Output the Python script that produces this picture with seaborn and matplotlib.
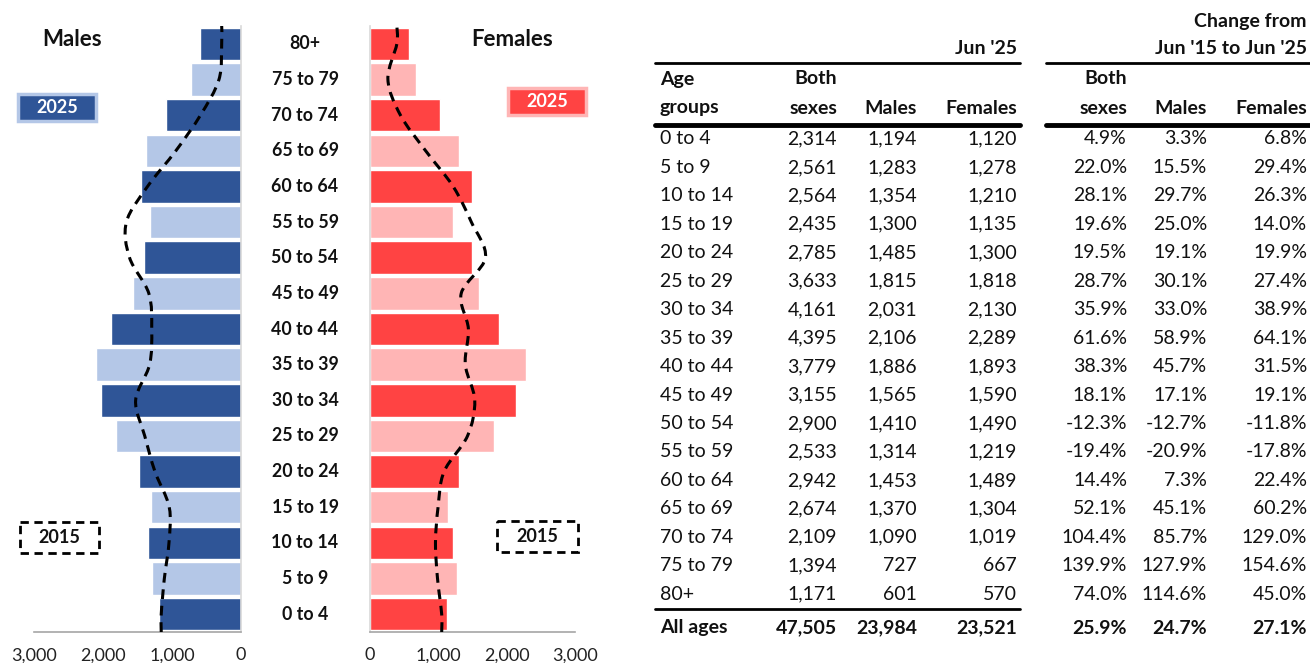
import numpy as np
import pandas as pd
import matplotlib
matplotlib.use("Agg")
import matplotlib.pyplot as plt
import seaborn as sns
from matplotlib.path import Path
from matplotlib.patches import PathPatch, Rectangle
from matplotlib.transforms import blended_transform_factory

# ---------------- data ----------------
ages = ["0 to 4", "5 to 9", "10 to 14", "15 to 19", "20 to 24", "25 to 29", "30 to 34",
        "35 to 39", "40 to 44", "45 to 49", "50 to 54", "55 to 59", "60 to 64",
        "65 to 69", "70 to 74", "75 to 79", "80+"]
both_2025 = [2314, 2561, 2564, 2435, 2785, 3633, 4161, 4395, 3779, 3155, 2900, 2533, 2942,
             2674, 2109, 1394, 1171]
males_2025 = [1194, 1283, 1354, 1300, 1485, 1815, 2031, 2106, 1886, 1565, 1410, 1314, 1453,
              1370, 1090, 727, 601]
females_2025 = [1120, 1278, 1210, 1135, 1300, 1818, 2130, 2289, 1893, 1590, 1490, 1219, 1489,
                1304, 1019, 667, 570]
chg_both = [4.9, 22.0, 28.1, 19.6, 19.5, 28.7, 35.9, 61.6, 38.3, 18.1, -12.3, -19.4, 14.4,
            52.1, 104.4, 139.9, 74.0]
chg_males = [3.3, 15.5, 29.7, 25.0, 19.1, 30.1, 33.0, 58.9, 45.7, 17.1, -12.7, -20.9, 7.3,
             45.1, 85.7, 127.9, 114.6]
chg_females = [6.8, 29.4, 26.3, 14.0, 19.9, 27.4, 38.9, 64.1, 31.5, 19.1, -11.8, -17.8, 22.4,
               60.2, 129.0, 154.6, 45.0]
total_2025 = [47505, 23984, 23521]
total_chg = [25.9, 24.7, 27.1]
males_2015 = [1156, 1111, 1044, 1040, 1247, 1395, 1527, 1325, 1294, 1336, 1615, 1661, 1354,
              944, 587, 319, 280]
females_2015 = [1049, 988, 958, 996, 1084, 1427, 1533, 1395, 1440, 1335, 1689, 1483, 1216,
                814, 445, 262, 393]
x_ticks = [0, 1000, 2000, 3000]

# ---------------- style ----------------
sns.set_style("white")
plt.rcParams["font.family"] = ["Lato", "DejaVu Sans"]
M_DARK, M_LIGHT = "#2F5597", "#B4C7E7"
F_DARK, F_LIGHT = "#FF4343", "#FFB5B5"
TXT = "#111111"

W, H = 1310, 663
fig = plt.figure(figsize=(W / 100, H / 100), dpi=100)


def px_axes(x0, y0, x1, y1):
    return fig.add_axes([x0 / W, 1 - y1 / H, (x1 - x0) / W, (y1 - y0) / H])


order_top = ages[::-1]
df = pd.DataFrame({"age": ages, "m": males_2025, "f": females_2025})
pal_m = {a: (M_DARK if i % 2 == 0 else M_LIGHT) for i, a in enumerate(ages)}
pal_f = {a: (F_DARK if i % 2 == 0 else F_LIGHT) for i, a in enumerate(ages)}

axM = px_axes(34, 26, 241, 632)
axF = px_axes(370, 26, 575, 632)

sns.barplot(data=df, x="m", y="age", order=order_top, hue="age", palette=pal_m,
            legend=False, width=0.91, saturation=1, ax=axM)
sns.barplot(data=df, x="f", y="age", order=order_top, hue="age", palette=pal_f,
            legend=False, width=0.91, saturation=1, ax=axF)


def smooth_path(xs, ys):
    pts = np.column_stack([xs, ys]).astype(float)
    pts = np.vstack([pts[0], pts, pts[-1]])
    verts = [pts[1]]
    codes = [Path.MOVETO]
    for i in range(1, len(pts) - 2):
        p0, p1, p2, p3 = pts[i - 1], pts[i], pts[i + 1], pts[i + 2]
        c1 = p1 + (p2 - p0) / 6.0
        c2 = p2 - (p3 - p1) / 6.0
        verts += [c1, c2, p2]
        codes += [Path.CURVE4] * 3
    return Path(verts, codes)


pos = [order_top.index(a) for a in ages]  # category positions
for ax, vals in ((axM, males_2015), (axF, females_2015)):
    ys = [pos[0] + 0.5] + pos + [pos[-1] - 0.5]
    xs = [vals[0]] + list(vals) + [vals[-1]]
    patch = PathPatch(smooth_path(xs, ys), fill=False, lw=2.2, ls=(0, (3.2, 2.2)),
                      edgecolor="black", zorder=5)
    ax.add_patch(patch)

for ax, inv in ((axM, True), (axF, False)):
    ax.set_xlim((3000, 0) if inv else (0, 3000))
    ax.set_ylim(16.5, -0.5)
    ax.set_xticks(x_ticks)
    ax.set_xticklabels([f"{v:,}" for v in x_ticks], fontsize=13, color="#222222")
    ax.set_yticks([])
    ax.set_xlabel("")
    ax.set_ylabel("")
    ax.tick_params(axis="x", length=0, pad=11)
    for s in ax.spines.values():
        s.set_visible(False)
    ax.spines["bottom"].set_visible(True)
    ax.spines["bottom"].set_color("#A6A6A6")
    ax.spines["bottom"].set_linewidth(1.2)
    side = "right" if inv else "left"
    ax.spines[side].set_visible(True)
    ax.spines[side].set_color("#D9D9D9")
    ax.spines[side].set_linewidth(1.2)
    ax.set_facecolor("none")

# ---------------- overlay ----------------
ov = fig.add_axes([0, 0, 1, 1], zorder=-1)
ov.set_xlim(0, W)
ov.set_ylim(H, 0)
ov.axis("off")

tr = blended_transform_factory(ov.transData, axM.transData)
for a in ages:
    ov.text(305, order_top.index(a), a, transform=tr, ha="center", va="center",
            fontsize=12.8, fontweight="bold", color=TXT)

ov.text(72, 40, "Males", ha="center", va="center", fontsize=16, fontweight="bold", color=TXT)
ov.text(512, 40, "Females", ha="center", va="center", fontsize=16, fontweight="bold", color=TXT)

# legend boxes
ov.add_patch(Rectangle((18, 94), 78, 27, facecolor=M_DARK, edgecolor=M_LIGHT, lw=2.5))
ov.text(57, 107.5, "2025", ha="center", va="center", color="white", fontsize=13,
        fontweight="bold")
ov.add_patch(Rectangle((508, 88), 78, 27, facecolor=F_DARK, edgecolor=F_LIGHT, lw=2.5))
ov.text(547, 101.5, "2025", ha="center", va="center", color="white", fontsize=13,
        fontweight="bold")
ov.add_patch(Rectangle((20, 522), 79, 31, facecolor="white", edgecolor="black", lw=2,
                       ls=(0, (3, 2))))
ov.text(59.5, 537.5, "2015", ha="center", va="center", color=TXT, fontsize=13,
        fontweight="bold")
ov.add_patch(Rectangle((497, 521), 81, 31, facecolor="white", edgecolor="black", lw=2,
                       ls=(0, (3, 2))))
ov.text(537.5, 536.5, "2015", ha="center", va="center", color=TXT, fontsize=13,
        fontweight="bold")

# ---------------- table ----------------
FS = 14
col_x = [660, 837, 917, 1017, 1127, 1207, 1307]
hb = dict(fontsize=FS, fontweight="bold", color=TXT, va="center")
ov.text(1307, 21, "Change from", ha="right", **hb)
ov.text(1307, 49, "Jun '15 to Jun '25", ha="right", **hb)
ov.text(1017, 49, "Jun '25", ha="right", **hb)
ov.text(660, 79, "Age", ha="left", **hb)
ov.text(660, 108, "groups", ha="left", **hb)
ov.text(837, 79, "Both", ha="right", **hb)
ov.text(837, 108, "sexes", ha="right", **hb)
ov.text(1127, 79, "Both", ha="right", **hb)
ov.text(1127, 108, "sexes", ha="right", **hb)
for cx in (917, 1207):
    ov.text(cx, 108, "Males", ha="right", **hb)
for cx in (1017, 1307):
    ov.text(cx, 108, "Females", ha="right", **hb)

ov.plot([655, 1020], [63, 63], color="black", lw=2)
ov.plot([1046, 1310], [63, 63], color="black", lw=2)
ov.plot([655, 1020], [125, 125], color="black", lw=3.5)
ov.plot([1046, 1310], [125, 125], color="black", lw=3.5)
ov.plot([655, 1020], [609, 609], color="black", lw=2)

row_y0, row_dy = 139, 28.45
for k, a in enumerate(ages):
    y = row_y0 + k * row_dy
    vals = [a, f"{both_2025[k]:,}", f"{males_2025[k]:,}", f"{females_2025[k]:,}",
            f"{chg_both[k]:.1f}%", f"{chg_males[k]:.1f}%", f"{chg_females[k]:.1f}%"]
    for j, (cx, v) in enumerate(zip(col_x, vals)):
        ov.text(cx, y, v, ha="left" if j == 0 else "right", va="center", fontsize=FS,
                color=TXT)

tot = ["All ages"] + [f"{v:,}" for v in total_2025] + [f"{v:.1f}%" for v in total_chg]
for j, (cx, v) in enumerate(zip(col_x, tot)):
    ov.text(cx, 628, v, ha="left" if j == 0 else "right", va="center", fontsize=FS,
            fontweight="bold", color=TXT)

fig.savefig("out.png", dpi=100, facecolor="white")
